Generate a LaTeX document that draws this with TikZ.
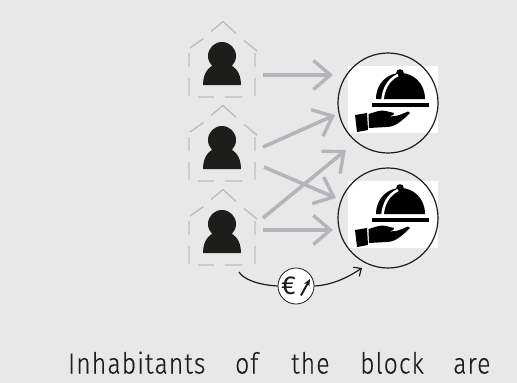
\documentclass[tikz,border=0pt]{standalone}
\usepackage{fontspec}
\setmainfont[LetterSpace=4,FakeStretch=0.85,FakeBold=0.4]{Fira Sans Light}
\newfontfamily\eurofont{Fira Sans}
\usetikzlibrary{arrows.meta}
\definecolor{bgc}{HTML}{E8E8E8}
\definecolor{flowc}{HTML}{B4B4BA}
\definecolor{dashc}{HTML}{BDBDBD}
\definecolor{ink}{HTML}{1D1D1B}
\tikzset{
  x=1pt,y=-1pt,
  housebox/.style={minimum width=66pt,minimum height=40pt,inner sep=0pt,outer sep=0pt},
  tablecircle/.style={circle,minimum size=100pt,inner sep=0pt,outer sep=0pt,draw=none},
  flowarrow/.style={draw=flowc,line width=3.6pt,-{Straight Barb[length=17pt,width=29pt,line width=3.4pt]}},
  payline/.style={draw=ink,line width=1.2pt},
  wordtext/.style={font=\fontsize{29}{30}\selectfont,text=ink,inner sep=0pt,anchor=base west},
  pics/resident/.style={code={
    \draw[dashc,line width=1.4pt]
      (-33,-5.5)--(-33,8.5) (-33,19.5)--(-33,37) (-24,38.5)--(-8,38.5) (3,38.5)--(20,38.5)
      (33,37)--(33,19.5) (33,8.5)--(33,-5.5)
      (-32,-10.5)--(-18.5,-20) (-11,-27)--(1,-37)--(14,-25) (22,-18)--(35,-7.5);
    \fill[ink] (0,-2.5) circle (14);
    \fill[ink] (-19,26.5) .. controls (-19,13) and (-12,5) .. (0,5) .. controls (12,5) and (19,13) .. (19,26.5) -- cycle;
  }},
  pics/serving/.style={code={
    \fill[black] (-12,-4) .. controls (-12,-20) and (0,-30) .. (12.5,-30) .. controls (25,-30) and (37,-20) .. (37,-4) -- cycle;
    \fill[black] (12,-30) circle (3.8);
    \draw[white,line width=2.6pt] (-5.5,-3) .. controls (-4.5,-14) and (0,-23) .. (10,-28);
    \fill[black] (-16,0) rectangle (41,4);
    \fill[black] (-33,12) -- (-21,10) -- (-20,27) -- (-31,29) -- cycle;
    \fill[black] (-19.5,11) .. controls (-12,9) and (-8,6.5) .. (-2,8) -- (6,10) .. controls (6,13) and (3,13) .. (-1,13) .. controls (6,14) and (10,13) .. (20,8.5) -- (22,10) .. controls (12,20) and (6,24) .. (-2,24) -- (-19,25) -- cycle;
  }}
}
\begin{document}
\begin{tikzpicture}
\useasboundingbox (0,0) rectangle (517,383);
\fill[bgc] (0,0) rectangle (517,383);
\fill[white] (348,66) rectangle (438,133);
\fill[white] (348,181) rectangle (438,248);
\node[housebox] (h1) at (222,75) {};
\node[housebox] (h2) at (222,159) {};
\node[housebox] (h3) at (222,243) {};
\pic at (222,58.5) {resident};
\pic at (222,142.5) {resident};
\pic at (222,226.5) {resident};
\node[tablecircle] (c1) at (388,103) {};
\node[tablecircle] (c2) at (388,218) {};
\draw[flowarrow] ([xshift=8pt]h1.east) -- ([xshift=-5pt,yshift=28pt]c1.west);
\draw[flowarrow] ([xshift=8pt,yshift=12pt]h2.east) -- ([xshift=-3pt,yshift=-12pt]c1.west);
\draw[flowarrow] ([xshift=9pt,yshift=-8pt]h2.east) -- ([xshift=-2pt,yshift=20pt]c2.west);
\draw[flowarrow] ([xshift=8pt,yshift=25pt]h3.east) -- ([xshift=8pt,yshift=-47pt]c1.west);
\draw[flowarrow] ([xshift=8pt,yshift=13pt]h3.east) -- ([xshift=-5pt,yshift=-12pt]c2.west);
\draw[ink,line width=1.2pt] (c1) circle (50);
\draw[ink,line width=1.2pt] (c2) circle (50);
\pic at (388,103) {serving};
\pic at (388,218) {serving};
\node[circle,draw=ink,fill=white,line width=0.8pt,minimum size=36pt,inner sep=0pt] (pay) at (296,286) {};
\node[inner sep=0pt,text=ink,font=\eurofont\fontsize{26}{26}\selectfont] (euro) at (288.5,286) {€};
\draw[ink,line width=1.9pt,-{Stealth[length=7pt,width=6pt]}] (301,295.5) -- (310,279);
\draw[payline] ([xshift=17pt,yshift=-9pt]h3.south) .. controls (243,279) and (258,285) .. (pay.west);
\coordinate (tip) at (362,268);
\draw[payline,-{Straight Barb[length=6pt,width=11pt,line width=1.2pt]}] (pay.east) .. controls (332,285) and (347,278) .. (tip);
\node[wordtext] (w1) at (68,373.5) {Inhabitants};
\node[wordtext] (w2) at (235,373.5) {of};
\node[wordtext] (w3) at (291,373.5) {the};
\node[wordtext] (w4) at (360,373.5) {block};
\node[wordtext] (w5) at (453,373.5) {are};
\end{tikzpicture}
\end{document}
